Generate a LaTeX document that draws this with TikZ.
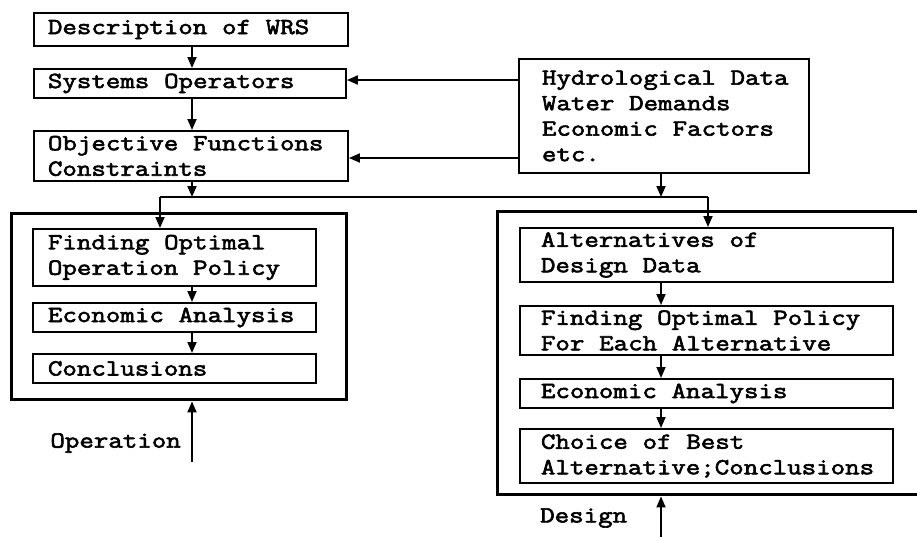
\documentclass[tikz,border=0pt]{standalone}
\usepackage{fontspec}
\newfontfamily\tw{Latin Modern Mono}[FakeStretch=1.223, FakeBold=2.6]
\newcommand\twset{\tw\fontsize{23}{25.5}\selectfont\spaceskip=14.77pt\relax}
\usetikzlibrary{arrows.meta}
\begin{document}
\begin{tikzpicture}[x=1pt,y=-1pt,
  txt/.style={font=\twset},
  blk/.style={txt, draw, line width=1.9pt, anchor=north west, inner ysep=0pt,
    align=flush left},
  frame/.style={draw, line width=3.4pt, anchor=north west, inner sep=0pt},
  arr/.style={line width=1.8pt, -{Triangle[length=11pt,width=9pt]}},
  wire/.style={line width=1.8pt},
  lbl/.style={txt, inner sep=0pt}]
\clip (0,0) rectangle (917,536);
\fill[white] (0,0) rectangle (917,536);

% top chain
\node[blk, inner xsep=14pt, text width=286pt, minimum height=33pt] (desc) at (33,12) {Description of WRS};
\node[blk, inner xsep=14pt, text width=284pt, minimum height=29pt] (sysop) at (33,68) {Systems Operators};
\node[blk, inner xsep=14pt, text width=286pt, minimum height=50pt] (obj) at (33,130) {Objective Functions\\Constraints};
\node[blk, inner xsep=19pt, text width=252pt, minimum height=114pt] (hydro) at (518,58) {\hspace*{4pt}Hydrological Data\\\hspace*{4pt}Water Demands\\\hspace*{4pt}Economic Factors\\\hspace*{4pt}etc.};

% the two study frames
\node[frame, minimum width=335pt, minimum height=186pt] (lout) at (10,212) {};
\node[frame, minimum width=460pt, minimum height=283pt] (rout) at (496,210) {};

% operation column
\node[blk, inner xsep=15pt, text width=253pt, minimum height=57pt] (fop) at (32,228) {Finding Optimal\\Operation Policy};
\node[blk, inner xsep=15pt, text width=253pt, minimum height=29pt] (eco1) at (32,302) {Economic Analysis};
\node[blk, inner xsep=15pt, text width=253pt, minimum height=29pt] (conc1) at (32,353) {Conclusions};

% design column
\node[blk, inner xsep=21pt, text width=331pt, minimum height=54pt] (alt) at (519,227) {Alternatives of\\Design Data};
\node[blk, inner xsep=21pt, text width=331pt, minimum height=49pt] (fopa) at (519,305) {Finding Optimal Policy\\For Each Alternative};
\node[blk, inner xsep=21pt, text width=331pt, minimum height=29pt] (eco2) at (519,378) {Economic Analysis};
\node[blk, inner xsep=21pt, text width=331pt, minimum height=54pt] (choice) at (519,428) {Choice of Best\\\makebox[\linewidth][l]{Alternative;Conclusions}};

% arrow columns and junctions
\coordinate (cl) at (192,0);
\coordinate (cr) at (661,0);
\coordinate (jl) at (160,197);
\coordinate (jr) at (708,197);
\coordinate (opin) at (192,462);
\coordinate (dsin) at (661,540);

\draw[arr] (desc.south -| cl) -- (sysop.north -| cl);
\draw[arr] (sysop.south -| cl) -- (obj.north -| cl);
\draw[arr] (hydro.west |- 0,80) -- (sysop.east |- 0,80);
\draw[arr] (hydro.west |- 0,158) -- (obj.east |- 0,158);
\draw[arr] (obj.south -| cl) -- (cl |- jl);
\draw[arr] (hydro.south -| cr) -- (cr |- jr);
\draw[wire] (jl) -- (jr);
\draw[arr] (jl) -- (jl |- fop.north);
\draw[arr] (jr) -- (jr |- alt.north);

\draw[arr] (fop.south -| cl) -- (eco1.north -| cl);
\draw[arr] (eco1.south -| cl) -- (conc1.north -| cl);
\draw[arr] (alt.south -| cr) -- (fopa.north -| cr);
\draw[arr] (fopa.south -| cr) -- (eco2.north -| cr);
\draw[arr] (eco2.south -| cr) -- (choice.north -| cr);

\draw[arr] (opin) -- (opin |- lout.south);
\draw[arr] (dsin) -- (dsin |- rout.south);
\node[lbl, anchor=east] (oplbl) at (181,443) {Operation};
\node[lbl, anchor=west] (dslbl) at (540,518) {Design};
\end{tikzpicture}
\end{document}
